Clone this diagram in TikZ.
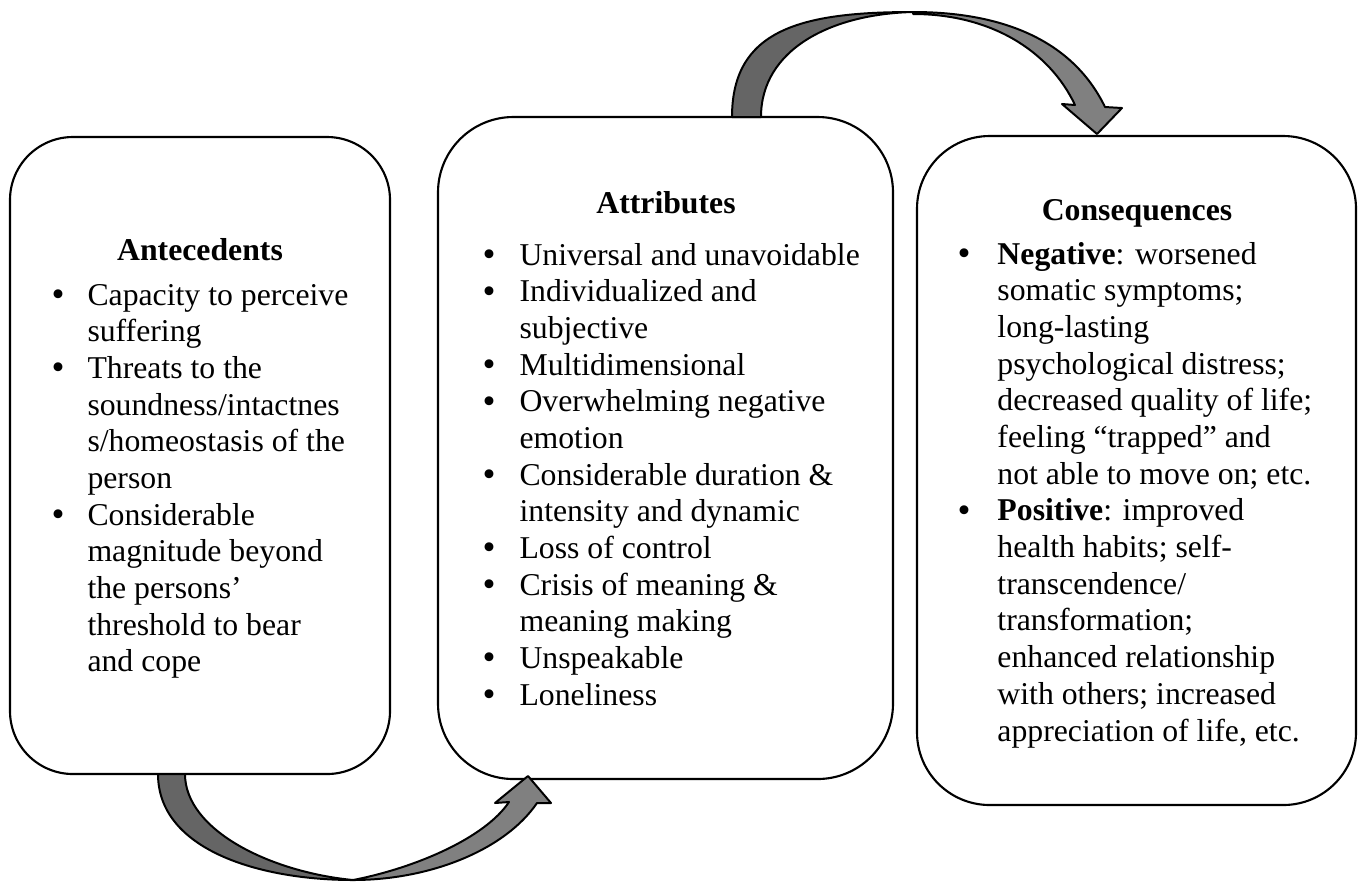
\documentclass[tikz,border=0pt]{standalone}
\usepackage{fontspec}
\setmainfont{Liberation Serif}
\usetikzlibrary{fit}

\definecolor{bandDark}{HTML}{656565}
\definecolor{bandLight}{HTML}{808080}

\newlength\bulw
\newcommand{\bl}{\makebox[\bulw][l]{\raisebox{-0.5pt}{\fontsize{14pt}{14pt}\selectfont\textbullet}}}
\newcommand{\listfont}{\fontsize{12pt}{13.87pt}\selectfont}

\begin{document}
\begin{tikzpicture}[x=0.378pt, y=-0.378pt,
  stage/.style={draw=black, line width=0.8pt, inner sep=0pt},
  heading/.style={anchor=base, inner sep=0pt, font=\listfont\bfseries},
  itemlist/.style={anchor=base west, inner sep=0pt},
  band/.style={draw=black, line width=0.75pt, line join=round}]

\useasboundingbox (0,0) rectangle (1362,882);

% the three stages
\node[stage, rounded corners=23.8pt, fit={(10,137) (390,774)}] (ante) {};
\node[stage, rounded corners=28.5pt, fit={(438,117) (893,779)}] (attr) {};
\node[stage, rounded corners=27.5pt, fit={(917,136) (1356,805)}] (cons) {};

% headings
\node[heading] (anteHead) at (200,260) {Antecedents};
\node[heading] (attrHead) at (666,213) {Attributes};
\node[heading] (consHead) at (1137,220) {Consequences};

% bullet lists
\node[itemlist] (anteList) at (51,305) {\listfont\setlength\bulw{13.6pt}%
\begin{tabular}[t]{@{}l@{}l@{}}
\bl & Capacity to perceive\\
    & suffering\\
\bl & Threats to the\\
    & soundness/intactnes\\
    & s/homeostasis of the\\
    & person\\
\bl & Considerable\\
    & magnitude beyond\\
    & the persons’\\
    & threshold to bear\\
    & and cope
\end{tabular}};

\node[itemlist] (attrList) at (482,265) {\listfont\setlength\bulw{14pt}%
\begin{tabular}[t]{@{}l@{}l@{}}
\bl & Universal and unavoidable\\
\bl & Individualized and\\
    & subjective\\
\bl & Multidimensional\\
\bl & Overwhelming negative\\
    & emotion\\
\bl & Considerable duration \&\\
    & intensity and dynamic\\
\bl & Loss of control\\
\bl & Crisis of meaning \&\\
    & meaning making\\
\bl & Unspeakable\\
\bl & Loneliness
\end{tabular}};

\node[itemlist] (consList) at (957,264) {\listfont\setlength\bulw{15.1pt}%
\begin{tabular}[t]{@{}l@{}l@{}}
\bl & \textbf{Negative}: worsened\\
    & somatic symptoms;\\
    & long-lasting\\
    & psychological distress;\\
    & decreased quality of life;\\
    & feeling “trapped” and\\
    & not able to move on; etc.\\
\bl & \textbf{Positive}: improved\\
    & health habits; self-\\
    & transcendence/\\
    & transformation;\\
    & enhanced relationship\\
    & with others; increased\\
    & appreciation of life, etc.
\end{tabular}};

% curved block arrow: antecedents -> attributes (below)
\coordinate (lowBottom) at (353,880);
\filldraw[band, fill=bandDark]
  (158,774) .. controls (158,850) and (260,880) .. (lowBottom)
  .. controls (270,872) and (185,830) .. (185,774) -- cycle;
\filldraw[band, fill=bandLight]
  (lowBottom) .. controls (430,880) and (505,850) .. (537,803)
  -- (551,803) -- (528,776) -- (495,803) -- (509,802)
  .. controls (485,838) and (415,868) .. (lowBottom) -- cycle;

% curved block arrow: attributes -> consequences (above)
\coordinate (topApex) at (913,12);
\filldraw[band, fill=bandDark]
  (732,117) .. controls (732,30) and (800,12) .. (topApex)
  .. controls (830,14) and (761,50) .. (761,117) -- cycle;
\filldraw[band, fill=bandLight]
  (topApex) .. controls (1010,12) and (1075,45) .. (1105,107)
  -- (1122,108) -- (1097,134) -- (1062,104) -- (1075,105)
  .. controls (1049,50) and (990,14) .. (913,14) -- cycle;

\end{tikzpicture}
\end{document}
